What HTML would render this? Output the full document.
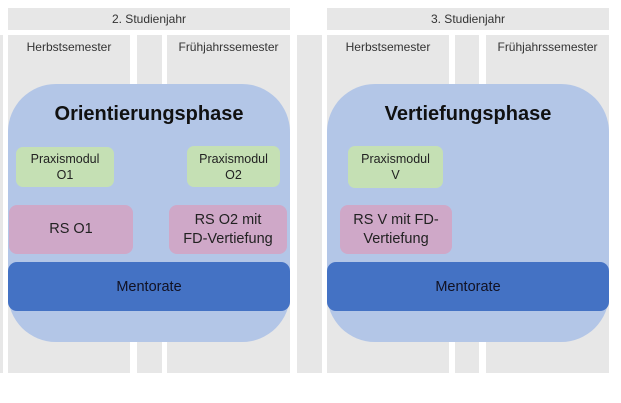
<!DOCTYPE html>
<html><head><style>
body{margin:0;width:621px;height:403px;background:#fff;position:relative;overflow:hidden;font-family:"Liberation Sans",sans-serif;}
div{position:absolute;box-sizing:border-box;}
.g{background:#e7e7e7;}
.t{display:flex;align-items:center;justify-content:center;text-align:center;color:#222;}
.h{font-size:12px;color:#333;}
.blue{background:#b3c6e7;border-radius:48px;}
.big{font-size:20px;font-weight:bold;color:#111;}
.gr{background:#c5e0b4;border-radius:7px;font-size:12.5px;line-height:16px;}
.pk{background:#cfa8c8;border-radius:8px;font-size:14.5px;line-height:19px;}
.mt{background:#4472c4;border-radius:9px;font-size:14.5px;color:#112;}
</style></head><body>
<div class="g" style="left:0;top:35px;width:3px;height:338px"></div>
<div class="g t h" style="left:8px;top:8px;width:282px;height:22px">2. Studienjahr</div>
<div class="g" style="left:8px;top:35px;width:122px;height:338px"></div>
<div class="g" style="left:137px;top:35px;width:25px;height:338px"></div>
<div class="g" style="left:167px;top:35px;width:123px;height:338px"></div>
<div class="t h" style="left:8px;top:38px;width:122px;height:18px">Herbstsemester</div>
<div class="t h" style="left:167px;top:38px;width:123px;height:18px">Frühjahrssemester</div>

<div class="g" style="left:297px;top:35px;width:25px;height:338px"></div>
<div class="g t h" style="left:327px;top:8px;width:282px;height:22px">3. Studienjahr</div>
<div class="g" style="left:327px;top:35px;width:122px;height:338px"></div>
<div class="g" style="left:455px;top:35px;width:24px;height:338px"></div>
<div class="g" style="left:486px;top:35px;width:123px;height:338px"></div>
<div class="t h" style="left:327px;top:38px;width:122px;height:18px">Herbstsemester</div>
<div class="t h" style="left:486px;top:38px;width:123px;height:18px">Frühjahrssemester</div>

<div class="blue" style="left:8px;top:84px;width:282px;height:258px"></div>
<div class="t big" style="left:8px;top:100px;width:282px;height:28px">Orientierungsphase</div>
<div class="t gr" style="left:16px;top:147px;width:98px;height:40px">Praxismodul<br>O1</div>
<div class="t gr" style="left:187px;top:146px;width:93px;height:41px">Praxismodul<br>O2</div>
<div class="t pk" style="left:9px;top:205px;width:124px;height:49px">RS O1</div>
<div class="t pk" style="left:169px;top:205px;width:118px;height:49px">RS O2 mit<br>FD-Vertiefung</div>
<div class="t mt" style="left:8px;top:262px;width:282px;height:49px">Mentorate</div>

<div class="blue" style="left:327px;top:84px;width:282px;height:258px"></div>
<div class="t big" style="left:327px;top:100px;width:282px;height:28px">Vertiefungsphase</div>
<div class="t gr" style="left:348px;top:146px;width:95px;height:42px">Praxismodul<br>V</div>
<div class="t pk" style="left:340px;top:205px;width:112px;height:49px">RS V mit FD-<br>Vertiefung</div>
<div class="t mt" style="left:327px;top:262px;width:282px;height:49px">Mentorate</div>
</body></html>
